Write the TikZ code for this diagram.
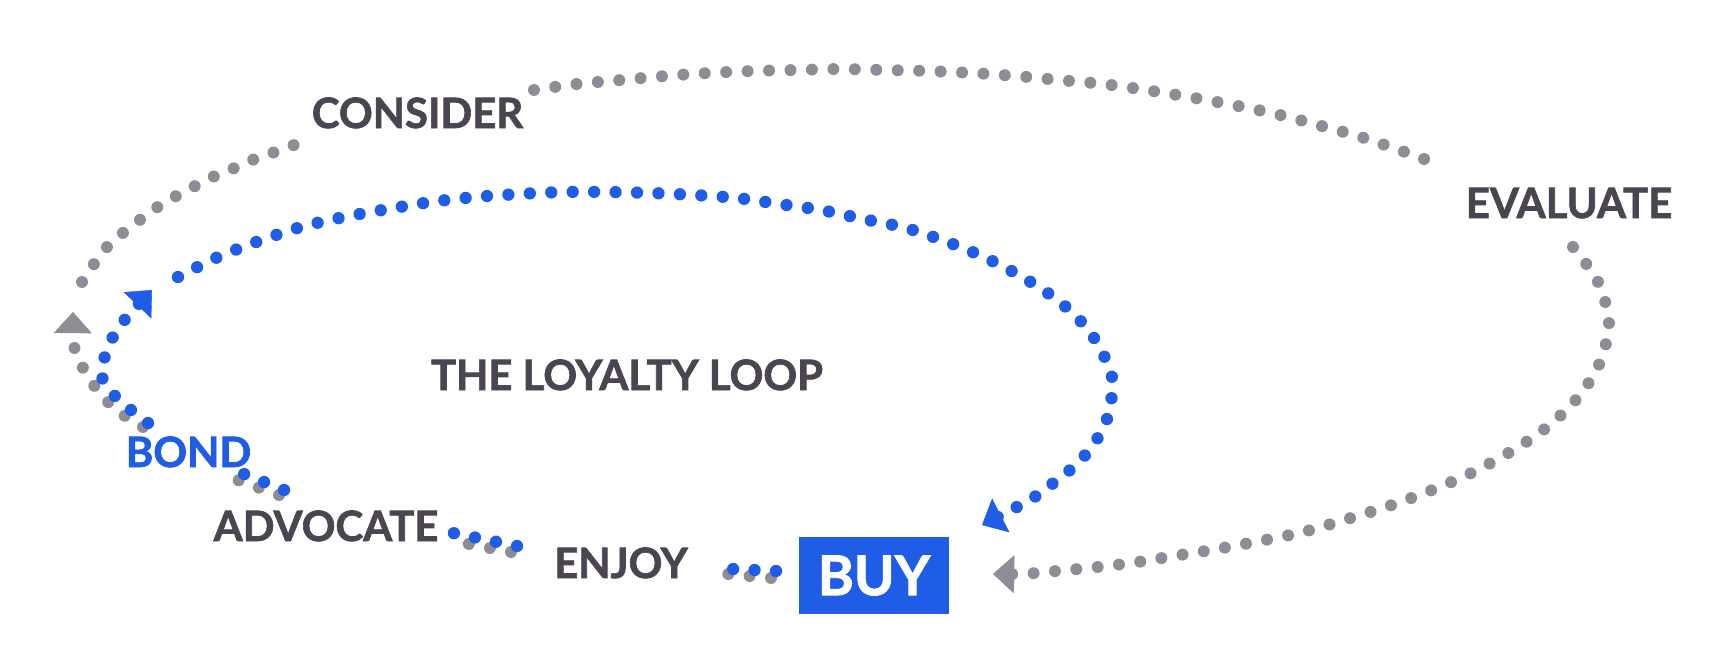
\documentclass[tikz,border=0pt]{standalone}
\usepackage{fontspec}
\setmainfont{Lato}[BoldFeatures={FakeBold=1.6}]
\usepackage{tikz}
\usetikzlibrary{arrows.meta}
\usepackage{xcolor}
\definecolor{ink}{RGB}{74,69,80}
\definecolor{dotgray}{RGB}{142,140,148}
\definecolor{loopblue}{RGB}{31,93,230}

\begin{document}
\begin{tikzpicture}[x=0.01cm, y=-0.01cm,
    >={Triangle[width=10.8pt,length=6pt,line width=0.1pt]},
    stage/.style={font=\fontsize{11.9}{12}\selectfont\bfseries, text=ink, inner sep=0pt, anchor=base},
    graydots/.style={dotgray, line width=3.4pt, line cap=round, dash pattern=on 0pt off 6.1pt},
    bluedots/.style={graydots, loopblue, line width=3.5pt}]
    \useasboundingbox (0,0) rectangle (1734,654);

    % stages
    \node[stage] (consider) at (417.5,128) {CONSIDER};
    \node[stage] (evaluate) at (1569,218) {EVALUATE};
    \node[stage] (loop) at (627,390) {THE LOYALTY LOOP};
    \node[stage, text=loopblue] (bond) at (188.5,467) {BOND};
    \node[stage] (advocate) at (326,541) {ADVOCATE};
    \node[stage] (enjoy) at (621,578) {ENJOY};
    \node[fill=loopblue, text=white, inner sep=0pt, minimum width=1.5cm, minimum height=0.77cm,
        font=\fontsize{15.6}{16}\selectfont\bfseries] (buy) at (874,575.5) {BUY};

    % ends of the dotted stretches
    \coordinate (gb) at (771,578);   \coordinate (ge) at (728,574);
    \coordinate (ge2) at (511,552);  \coordinate (ga) at (448,540);
    \coordinate (ga2) at (279,495);  \coordinate (gd) at (238,480);
    \coordinate (bb) at (776,571);   \coordinate (be) at (733,569);
    \coordinate (be2) at (517,546);  \coordinate (ba) at (453,533);
    \coordinate (ba2) at (284,490);  \coordinate (bd) at (244,474);

    % outer route (gray)
    \draw[graydots] (gb) -- (ge);
    \draw[graydots] (ge2) -- (ga);
    \draw[graydots] (ga2) -- (gd);
    \draw[graydots, ->] plot[smooth] coordinates {(143,427) (125,416) (107,401) (93,384) (82,366) (74,346) (73,312)};
    \draw[graydots] plot[smooth] coordinates {(82,282) (94,264) (107,247) (124,232) (141,219) (159,206)
        (178,195) (197,185) (217,175) (237,167) (257,158) (278,151) (299,143)};
    \draw[graydots] plot[smooth] coordinates {(534,90) (577,84) (621,80) (665,76) (708,73) (752,71)
        (796,70) (840,69) (884,70) (927,71) (972,73) (1016,76) (1059,80) (1103,84) (1146,90)
        (1189,97) (1233,105) (1276,114) (1318,125) (1361,137) (1402,151) (1443,166)};
    \draw[graydots, ->] plot[smooth] coordinates {(1573,247) (1598,282) (1609,324) (1598,367)
        (1574,402) (1542,431) (1505,455) (1467,475) (1427,492) (1386,507) (1344,520) (1303,532)
        (1260,541) (1217,549) (1174,556) (1131,563) (1088,568) (1045,572) (1023,574) (993,574)};

    % loyalty loop (blue)
    \draw[bluedots] (bb) -- (be);
    \draw[bluedots] (be2) -- (ba);
    \draw[bluedots] (ba2) -- (bd);
    \draw[bluedots, ->] plot[smooth] coordinates {(148,423) (131,410) (114,395) (102,377) (105,356)
        (114,335) (127,317) (152,290)};
    \draw[bluedots, ->] plot[smooth] coordinates {(178,277) (218,257) (259,241) (301,227) (344,217)
        (388,209) (431,202) (475,197) (519,194) (564,192) (608,192) (651,193) (694,195) (737,198)
        (779,204) (821,210) (863,219) (906,228) (950,243) (986,258) (1024,278) (1060,302)
        (1090,332) (1110,369) (1112,391) (1109,413) (1100,434) (1087,453) (1070,470) (1052,484)
        (1033,498) (1013,509) (982,525)};
\end{tikzpicture}
\end{document}
